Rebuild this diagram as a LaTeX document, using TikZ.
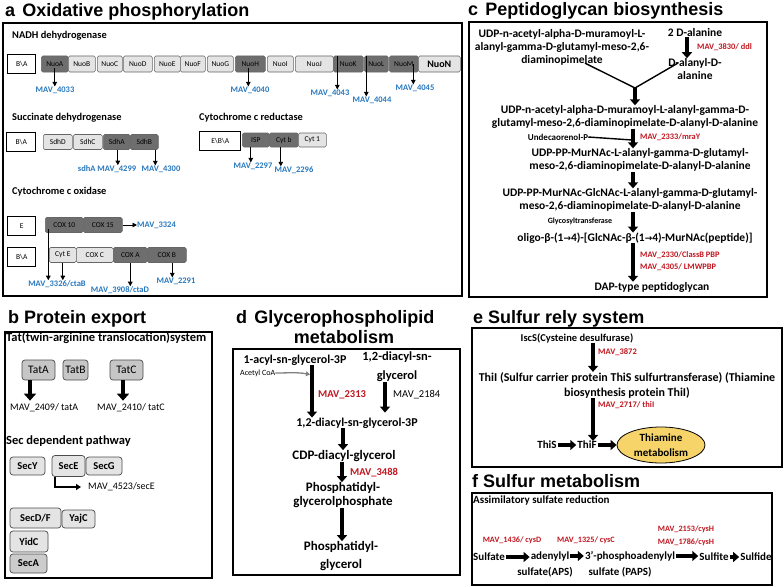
\documentclass[tikz,border=0pt]{standalone}
\usepackage{fontspec}
\setmainfont{Carlito}
\newfontfamily\arialfont{Liberation Sans}
\newfontfamily\arrowfont{DejaVu Sans}
\usetikzlibrary{calc,arrows.meta,shapes.geometric}
\definecolor{mavblue}{HTML}{2878BE}
\definecolor{mavred}{HTML}{C0161F}
\definecolor{genedark}{HTML}{6E6E6E}
\definecolor{genelight}{HTML}{E4E4E4}
\definecolor{thiayellow}{HTML}{F6D46A}
\newcommand{\fsz}[2]{\fontsize{#1}{#2}\selectfont}
\newcommand{\rarr}{{\arrowfont\bfseries\fsz{9}{10}→}}

\begin{document}
\begin{tikzpicture}[x=1pt, y=-1pt,
        ttl/.style={anchor=base west, inner sep=0, font=\arialfont\bfseries\fsz{18}{20}},
        panel/.style={draw, line width=1.1pt},
        sub/.style={anchor=west, inner sep=0, font=\bfseries\fsz{10.4}{12}},
        gene/.style={draw=black!60, line width=0.6pt, rounded corners=1.5pt, anchor=west,
            minimum height=16pt, inner sep=0, font=\fsz{7.5}{8}},
        gdark/.style={gene, fill=genedark},
        glight/.style={gene, fill=genelight},
        bakey/.style={draw, line width=1.4pt, anchor=west, minimum height=19pt, inner sep=0,
            font=\fsz{7.5}{8}},
        mav/.style={inner sep=0, text=mavblue, font=\bfseries\fsz{8.5}{10}},
        mavr/.style={inner sep=0, text=mavred, font=\bfseries\fsz{8.4}{12}, anchor=west, align=left},
        garr/.style={line width=0.9pt, -{Triangle[length=4.5pt,width=4.5pt]}},
        barr/.style={line width=3.6pt, -{Triangle[length=6pt,width=10pt]}},
        harr/.style={line width=3.6pt, -{Triangle[length=6pt,width=10pt]}, shorten <=1pt, shorten >=1pt},
        txt/.style={inner sep=0, align=center, font=\bfseries\fsz{11.5}{13}},
        tatbox/.style={draw=black!70, fill=gray!45, rounded corners=3pt, minimum height=20pt,
            inner sep=0, line width=0.7pt, font=\fsz{11.5}{12}},
        secbox/.style={draw=black!70, fill=genelight, rounded corners=3pt, inner sep=0,
            line width=0.7pt, font=\bfseries\fsz{10.5}{12}}]
        \useasboundingbox (0,0) rectangle (784,586);

        \draw[panel] (3,23) rectangle (462,296);
        \node[ttl] (ttla) at (5,17) {a\hspace{0.4em}Oxidative phosphorylation};
        \node[sub] (nadh) at (12,36) {NADH dehydrogenase};
        \node[bakey, minimum width=28pt] (ba1) at (7,64) {B\textbackslash A};
        \foreach \n/\l/\x/\w/\s in {nuoA/NuoA/41/27/gdark, nuoB/NuoB/68/27/glight,
            nuoC/NuoC/97/25/glight, nuoD/NuoD/123/29/glight, nuoE/NuoE/154/26/glight,
            nuoF/NuoF/180/25/glight, nuoG/NuoG/207/26/glight, nuoH/NuoH/235/30/gdark,
            nuoI/NuoI/267/26/glight, nuoJ/NuoJ/295/38/glight, nuoK/NuoK/333/30/gdark,
            nuoL/NuoL/364/24/gdark, nuoM/NuoM/389/29/gdark}
            \node[\s, minimum width=\w pt] (\n) at (\x,64) {\l};
        \node[glight, minimum width=42pt, font=\bfseries\fsz{10}{10}] (nuoN) at (418,64) {NuoN};
        \node[mav] (l4033) at (55,90) {MAV\_4033};
        \node[mav] (l4040) at (250,90) {MAV\_4040};
        \node[mav] (l4043) at (330,93) {MAV\_4043};
        \node[mav] (l4044) at (372,100) {MAV\_4044};
        \node[mav] (l4045) at (415,88) {MAV\_4045};
        \draw[garr] ([yshift=4pt]nuoA.south) -- (nuoA.south |- l4033.north);
        \draw[garr] ([yshift=4pt,xshift=-2pt]nuoH.south) -- ([xshift=-2pt]nuoH.south |- l4040.north);
        \draw[garr] ([xshift=-11pt]nuoK.north) -- ([xshift=-11pt]nuoK.north |- l4043.north);
        \draw[garr] ([xshift=-10pt]nuoL.north) -- ([xshift=-10pt]nuoL.north |- l4044.north);
        \draw[garr] ([xshift=9.5pt]nuoM.center) -- ([xshift=9.5pt]nuoM.center |- l4045.north);

        \node[sub] (sdh) at (12,118) {Succinate dehydrogenase};
        \node[bakey, minimum width=29pt] (ba2) at (6,142) {B\textbackslash A};
        \foreach \n/\l/\x/\w/\s in {sdhD/SdhD/43/29/glight, sdhC/SdhC/73/29/glight,
            sdhA/SdhA/103/27/gdark, sdhB/SdhB/130/28/gdark}
            \node[\s, minimum width=\w pt, minimum height=15pt] (\n) at (\x,142) {\l};
        \node[mav] (l4299) at (107,169) {sdhA MAV\_4299};
        \node[mav] (l4300) at (161,169) {MAV\_4300};
        \draw[garr] ([xshift=1pt]sdhA.south) -- ([xshift=1pt]sdhA.south |- l4299.north);
        \draw[garr] ([xshift=11pt]sdhB.south) -- ([xshift=11pt]sdhB.south |- l4300.north);

        \node[sub] (cred) at (199,118) {Cytochrome c reductase};
        \node[bakey, minimum width=41pt] (eba) at (199,141) {E\textbackslash B\textbackslash A};
        \foreach \n/\l/\x/\w/\s in {isp/ISP/242/27/gdark, cytb/Cyt b/269/29/gdark,
            cyt1/Cyt 1/298/28/glight}
            \node[\s, minimum width=\w pt, minimum height=14pt] (\n) at (\x,140) {\l};
        \node[mav] (l2297) at (253,166) {MAV\_2297};
        \node[mav] (l2296) at (294,170) {MAV\_2296};
        \draw[garr] ([xshift=-5pt]isp.south) -- ([xshift=-5pt]isp.south |- l2297.north);
        \draw[garr] ([xshift=-3pt]cytb.south) -- ([xshift=-3pt]cytb.south |- l2296.north);

        \node[sub] (cox) at (12,192) {Cytochrome c oxidase};
        \node[bakey, minimum width=28pt] (ebox) at (7,226) {E};
        \node[gdark, minimum width=38pt, minimum height=15pt] (cox10) at (45,225) {COX 10};
        \node[gdark, minimum width=39pt, minimum height=15pt] (cox15) at (83,225) {COX 15};
        \node[mav, anchor=west] (l3324) at (137,225) {MAV\_3324};
        \draw[garr] (cox15.east) -- (l3324.west);
        \node[bakey, minimum width=28pt] (ba3) at (7,257) {B\textbackslash A};
        \foreach \n/\l/\x/\w/\s in {cytE/Cyt E/49/27/glight, coxC/COX C/76/37/glight,
            coxA/COX A/113/34/gdark, coxB/COX B/147/39/gdark}
            \node[\s, minimum width=\w pt, minimum height=15pt] (\n) at (\x,255) {\l};
        \node[mav] (l3326) at (57,284) {MAV\_3326/ctaB};
        \node[mav] (l3908) at (120,290) {MAV\_3908/ctaD};
        \node[mav] (l2291) at (176,281) {MAV\_2291};
        \draw[garr] ([xshift=-16pt,yshift=-4pt]cox10.center) -- ([xshift=-16pt]cox10.center |- l3326.north);
        \draw[garr] (cytE.south) -- (cytE.south |- l3326.north);
        \draw[garr] (coxA.south) -- (coxA.south |- l3908.north);
        \draw[garr] ([xshift=5.5pt]coxB.south) -- ([xshift=5.5pt]coxB.south |- l2291.north);

        \draw[panel] (469,22) rectangle (767,297);
        \node[ttl] (ttlc) at (468,16) {c\hspace{0.4em}Peptidoglycan biosynthesis};
        \node[txt] (c1) at (562,47) {UDP-n-acetyl-alpha-D-muramoyl-L-\\alanyl-gamma-D-glutamyl-meso-2,6-\\diaminopimelate};
        \node[txt] (c2) at (695,33) {2 D-alanine};
        \node[txt] (c3) at (695,69) {D-alanyl-D-\\alanine};
        \node[mavr] (l3830) at (697,47) {MAV\_3830/ ddl};
        \draw[barr] ([xshift=-8pt]c2.south) -- ([xshift=-8pt]c3.north);
        \coordinate (cmerge) at (635,88);
        \draw[line width=1.4pt] ($(c1.south)+(23,-2)$) -- (cmerge);
        \draw[line width=1.4pt] ($(c3.west)+(10,-6)$) -- (cmerge);
        \node[txt] (c4) at (625,117) {UDP-n-acetyl-alpha-D-muramoyl-L-alanyl-gamma-D-\\glutamyl-meso-2,6-diaminopimelate-D-alanyl-D-alanine};
        \draw[barr] (cmerge) -- (c4.north -| cmerge);
        \coordinate (ccol) at (633,140);
        \node[inner sep=0, font=\bfseries\fsz{9}{10}] (und) at (558,137) {Undecaorenol-P};
        \node[mavr] (l2333) at (640,137) {MAV\_2333/mraY};
        \node[txt] (c5) at (640,160) {UDP-PP-MurNAc-L-alanyl-gamma-D-glutamyl-\\meso-2,6-diaminopimelate-D-alanyl-D-alanine};
        \draw[barr] (c4.south -| ccol) -- (c5.north -| ccol);
        \draw[line width=1.4pt] (und.east) -- ([xshift=-1pt]ccol);
        \node[txt] (c6) at (630,200) {UDP-PP-MurNAc-GlcNAc-L-alanyl-gamma-D-glutamyl-\\meso-2,6-diaminopimelate-D-alanyl-D-alanine};
        \draw[barr] (c5.south -| ccol) -- (c6.north -| ccol);
        \node[inner sep=0, font=\bfseries\fsz{8}{9}] (gly) at (580,221) {Glycosyltransferase};
        \node[txt] (c7) at (635,238) {oligo-β-(1\rarr4)-[GlcNAc-β-(1\rarr4)-MurNAc(peptide)]};
        \draw[barr] (c6.south -| ccol) -- (c7.north -| ccol);
        \node[mavr] (l2330) at (640,261) {MAV\_2330/ClassB PBP\\MAV\_4305/ LMWPBP};
        \node[txt] (c8) at (652,287) {DAP-type peptidoglycan};
        \draw[barr] (c7.south -| ccol) -- (c8.north -| ccol);

        \draw[panel] (5,332) rectangle (212,578);
        \node[ttl] (ttlb) at (8,323) {b Protein export};
        \node[sub, font=\bfseries\fsz{12.5}{14}] (tat) at (6,338) {Tat(twin-arginine translocation)system};
        \node[tatbox, minimum width=33pt] (tatA) at (38.5,370) {TatA};
        \node[tatbox, minimum width=25pt] (tatB) at (75.5,370) {TatB};
        \node[tatbox, minimum width=33pt] (tatC) at (126.5,370) {TatC};
        \node[inner sep=0, anchor=west, font=\fsz{10}{11}] (l2409) at (10,408) {MAV\_2409/ tatA};
        \node[inner sep=0, anchor=west, font=\fsz{10}{11}] (l2410) at (97,408) {MAV\_2410/ tatC};
        \draw[barr, line width=4.5pt, -{Triangle[length=7pt,width=12pt]}] ([xshift=-8.5pt]tatA.south) -- ([xshift=-8.5pt,yshift=3pt]tatA.south |- l2409.north);
        \draw[barr, line width=4.5pt, -{Triangle[length=7pt,width=12pt]}] ([xshift=-3.5pt]tatC.south) -- ([xshift=-3.5pt,yshift=3pt]tatC.south |- l2410.north);
        \node[sub, font=\bfseries\fsz{12.5}{14}] (secdep) at (6,441) {Sec dependent pathway};
        \node[secbox, minimum width=35pt, minimum height=18pt] (secY) at (27.5,466) {SecY};
        \node[secbox, minimum width=33pt, minimum height=21pt] (secE) at (68.5,466) {SecE};
        \node[secbox, minimum width=36pt, minimum height=18pt] (secG) at (104,466) {SecG};
        \node[inner sep=0, anchor=west, font=\fsz{10}{11}] (l4523) at (88,487) {MAV\_4523/secE};
        \draw[line width=1.8pt, -{Triangle[length=5pt,width=6pt]}, shorten >=7pt] ([xshift=-13.5pt]secE.south) |- (l4523.west);
        \node[secbox, minimum width=51pt, minimum height=20pt] (secDF) at (35.5,518) {SecD/F};
        \node[secbox, minimum width=33pt, minimum height=18pt] (yajC) at (78.5,519) {YajC};
        \node[secbox, minimum width=38pt, minimum height=21pt] (yidC) at (29,541.5) {YidC};
        \node[secbox, minimum width=37pt, minimum height=19pt, fill=gray!40] (secA) at (28.5,563.5) {SecA};

        \draw[panel] (233,349) rectangle (460,575);
        \node[ttl] (ttld) at (236,323) {d\hspace{0.4em}Glycerophospholipid};
        \node[ttl, anchor=base] (ttld2) at (344,343) {metabolism};
        \node[txt, font=\bfseries\fsz{12}{14}] (acyl) at (295,360) {1-acyl-sn-glycerol-3P};
        \node[txt, font=\bfseries\fsz{12.5}{19}] (dag) at (397,367) {1,2-diacyl-sn-\\glycerol};
        \node[inner sep=0, anchor=west, font=\fsz{8}{9}] (acoa) at (240,373) {Acetyl CoA};
        \node[txt, font=\bfseries\fsz{12}{14}] (dag3p) at (357,423) {1,2-diacyl-sn-glycerol-3P};
        \draw[barr] ([xshift=17pt]acyl.south) -- ([xshift=17pt]acyl.south |- dag3p.north);
        \draw[barr, shorten >=5pt] ([xshift=-12pt]dag.south) -- ([xshift=-12pt]dag.south |- dag3p.north);
        \draw[gray, line width=1.3pt, -{Triangle[length=4pt,width=5pt]}] (acoa.east) to[out=0, in=170] ($(acyl.south)+(15,9)$);
        \node[mavr, font=\bfseries\fsz{10.5}{12}] (l2313) at (318,395) {MAV\_2313};
        \node[inner sep=0, anchor=west, font=\fsz{10.5}{12}] (l2184) at (393,395) {MAV\_2184};
        \node[txt, font=\bfseries\fsz{13}{14}] (cdp) at (344,456) {CDP-diacyl-glycerol};
        \draw[barr] ([xshift=-14pt]dag3p.south) -- ([xshift=-14pt]dag3p.south |- cdp.north);
        \node[txt, font=\bfseries\fsz{13}{14}] (pgp) at (343,495) {Phosphatidyl-\\glycerolphosphate};
        \draw[barr] ([xshift=-2pt]cdp.south) -- ([xshift=-2pt]cdp.south |- pgp.north);
        \node[mavr, font=\bfseries\fsz{10.5}{12}] (l3488) at (350,473) {MAV\_3488};
        \node[txt, font=\bfseries\fsz{13}{18}] (pg) at (341,556) {Phosphatidyl-\\glycerol};
        \draw[barr] ([xshift=-1pt]pgp.south) -- ([xshift=-1pt]pgp.south |- pg.north);

        \draw[panel] (472,328) rectangle (782,467);
        \node[ttl] (ttle) at (473,323) {e Sulfur rely system};
        \node[txt, font=\bfseries\fsz{10.5}{15}] (isc) at (577,338) {IscS(Cysteine desulfurase)};
        \node[txt, font=\bfseries\fsz{12}{15}] (thii) at (627,385) {ThiI (Sulfur carrier protein ThiS sulfurtransferase) (Thiamine\\biosynthesis protein ThiI)};
        \coordinate (ecol) at (593,338);
        \draw[barr] (isc.south -| ecol) -- (thii.north -| ecol);
        \node[mavr, font=\bfseries\fsz{8.5}{10}] (l3872) at (598,352) {MAV\_3872};
        \node[mavr, font=\bfseries\fsz{8.5}{10}] (l2717) at (598,405) {MAV\_2717/ thiI};
        \node[txt, font=\bfseries\fsz{11}{12}] (this) at (547,445) {ThiS};
        \node[txt, font=\bfseries\fsz{11}{12}] (thif) at (587,445) {ThiF};
        \node[ellipse, draw, line width=0.8pt, fill=thiayellow, minimum width=88pt, minimum height=36pt,
            inner sep=0, align=center, font=\bfseries\fsz{11}{15}] (thiam) at (661,445) {Thiamine\\metabolism};
        \draw[barr] (thii.south -| ecol) -- (thif.north -| ecol);
        \draw[harr] (this.east) -- (thif.west);
        \draw[harr, shorten >=0pt] (thif.east) -- (thiam.west);

        \draw[panel] (472,493) rectangle (772,585);
        \node[ttl] (ttlf) at (472,487) {f Sulfur metabolism};
        \node[sub, font=\bfseries\fsz{11}{12}] (asr) at (473,500) {Assimilatory sulfate reduction};
        \node[mavr, anchor=center, font=\bfseries\fsz{8.2}{13}] (l1436) at (512,540) {MAV\_1436/ cysD};
        \node[mavr, anchor=center, font=\bfseries\fsz{8.2}{13}] (l1325) at (586,540) {MAV\_1325/ cysC};
        \node[mavr, anchor=center, align=center, font=\bfseries\fsz{8.2}{13}] (l2153) at (686,536) {MAV\_2153/cysH\\MAV\_1786/cysH};
        \node[txt, font=\bfseries\fsz{11}{14}, anchor=west] (sulfate) at (473,557) {Sulfate};
        \node[txt, font=\bfseries\fsz{11}{14}] (aps) at (550,556) {adenylyl};
        \node[txt, font=\bfseries\fsz{11}{14}] (aps2) at (545,572) {sulfate(APS)};
        \node[txt, font=\bfseries\fsz{11}{14}] (paps) at (630,556) {3'-phosphoadenylyl};
        \node[txt, font=\bfseries\fsz{11}{14}] (paps2) at (620,572) {sulfate (PAPS)};
        \node[txt, font=\bfseries\fsz{11}{14}] (sulfite) at (714,557) {Sulfite};
        \node[txt, font=\bfseries\fsz{11}{14}] (sulfide) at (756,557) {Sulfide};
        \draw[harr] (sulfate.east) -- (sulfate.east -| aps.west);
        \draw[harr] (aps.east) -- (paps.west);
        \draw[harr] (paps.east) -- (paps.east -| sulfite.west);
        \draw[harr] (sulfite.east) -- (sulfide.west);
\end{tikzpicture}
\end{document}
